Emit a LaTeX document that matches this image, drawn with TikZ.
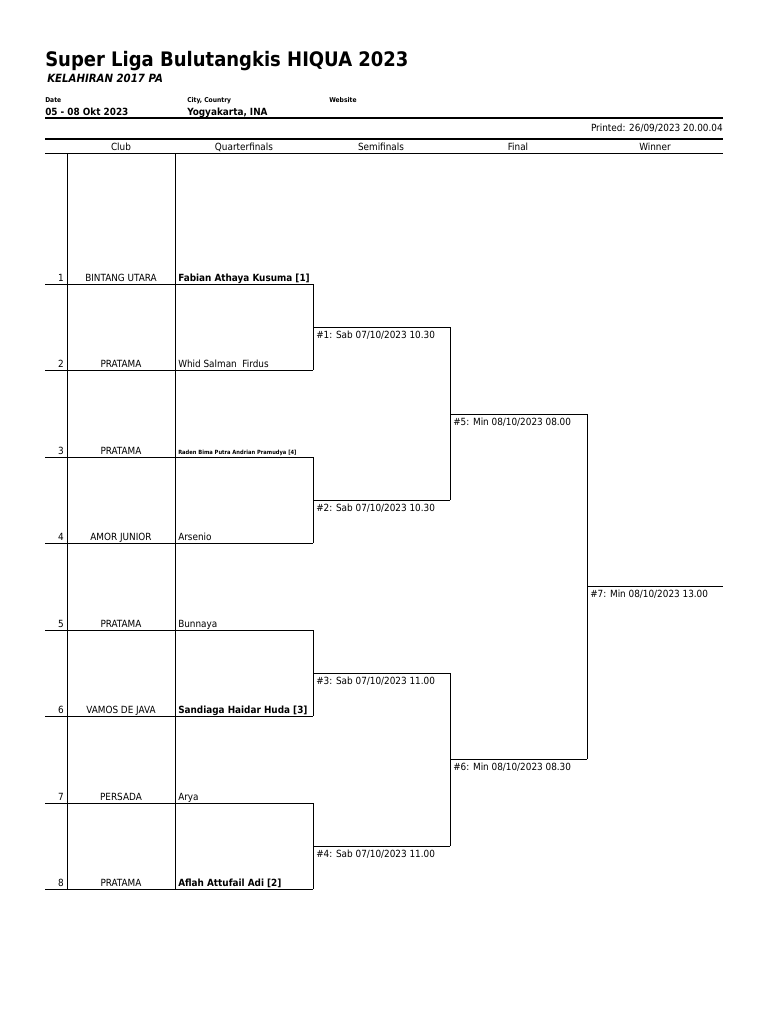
\documentclass[tikz,border=0pt]{standalone}
\usepackage{fontspec}
\setmainfont{DejaVu Sans Condensed}
\begin{document}
\begin{tikzpicture}[x=0.75pt,y=-0.75pt,
  t/.style={inner sep=0pt,font=\fontsize{7.4}{8}\selectfont},
  ln/.style={line width=0.6pt}]
\useasboundingbox (0,0) rectangle (768,1024);
\node[t,anchor=base west,font=\fontsize{15}{17}\selectfont\bfseries] (title) at (45,67) {Super Liga Bulutangkis HIQUA 2023};
\node[t,anchor=base west,font=\fontsize{8.5}{10}\selectfont\bfseries\itshape] (sub) at (47,83) {KELAHIRAN 2017 PA};
\node[t,anchor=base west,font=\fontsize{5}{6}\selectfont\bfseries] (dl) at (45,103) {Date};
\node[t,anchor=base west,font=\fontsize{5}{6}\selectfont\bfseries] (cl) at (187,103) {City, Country};
\node[t,anchor=base west,font=\fontsize{5}{6}\selectfont\bfseries] (wl) at (329,103) {Website};
\node[t,anchor=base west,font=\fontsize{7.4}{8}\selectfont\bfseries] (dv) at (45,115) {05 - 08 Okt 2023};
\node[t,anchor=base west,font=\fontsize{7.4}{8}\selectfont\bfseries] (cv) at (187,115) {Yogyakarta, INA};
\draw[line width=1.2pt] (45,118) -- (723,118);
\node[t,anchor=base east] (pr) at (723,132) {Printed: 26/09/2023 20.00.04};
\draw[line width=1.2pt] (45,139) -- (723,139);
\draw[ln] (45,153) -- (723,153);
\foreach \x/\s in {121/Club,244/Quarterfinals,381/Semifinals,518/Final,655/Winner}
  \node[t,anchor=base] at (\x,150) {\s};
\draw[ln] (67,153) -- (67,889);
\draw[ln] (175,153) -- (175,889);
\foreach \i/\y/\c/\p in {1/284/BINTANG UTARA/{\bfseries Fabian Athaya Kusuma [1]},
  2/370/PRATAMA/{Whid Salman\ \ Firdus},
  3/457/PRATAMA/{\fontsize{4.3}{5}\selectfont\bfseries Raden Bima Putra Andrian Pramudya [4]},
  4/543/AMOR JUNIOR/Arsenio,
  5/630/PRATAMA/Bunnaya,
  6/716/VAMOS DE JAVA/{\bfseries Sandiaga Haidar Huda [3]},
  7/803/PERSADA/Arya,
  8/889/PRATAMA/{\bfseries Aflah Attufail Adi [2]}} {
  \draw[ln] (45,\y) -- (313,\y);
  \node[t,anchor=base east] at (64,\y-3) {\i};
  \node[t,anchor=base] at (121,\y-3) {\c};
  \node[t,anchor=base west] at (178,\y-3) {\p};
}
\foreach \a/\b/\m/\s in {284/370/327/{\#1: Sab 07/10/2023 10.30},457/543/500/{\#2: Sab 07/10/2023 10.30},630/716/673/{\#3: Sab 07/10/2023 11.00},803/889/846/{\#4: Sab 07/10/2023 11.00}} {
  \draw[ln] (313,\a) -- (313,\b);
  \draw[ln] (313,\m) -- (450,\m);
  \node[t,anchor=base west] at (316,\m+11) {\s};
}
\foreach \a/\b/\m/\s in {327/500/414/{\#5: Min 08/10/2023 08.00},673/846/759/{\#6: Min 08/10/2023 08.30}} {
  \draw[ln] (450,\a) -- (450,\b);
  \draw[ln] (450,\m) -- (587,\m);
  \node[t,anchor=base west] at (453,\m+11) {\s};
}
\draw[ln] (587,414) -- (587,759);
\draw[ln] (587,586) -- (723,586);
\node[t,anchor=base west] (w) at (590,597) {\#7: Min 08/10/2023 13.00};
\end{tikzpicture}
\end{document}
